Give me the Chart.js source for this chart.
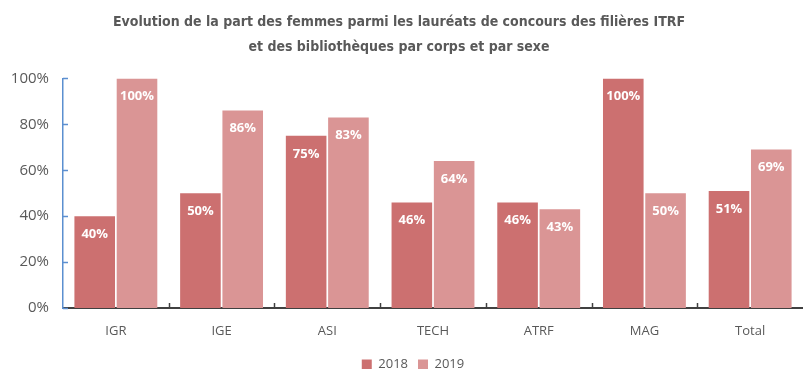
<!DOCTYPE html>
<html lang="fr">
<head>
<meta charset="UTF-8">
<title>Part des femmes parmi les lauréats</title>
<script src="https://cdn.jsdelivr.net/npm/chart.js"></script>
<style>
  html, body { margin: 0; padding: 0; background: #fff; overflow: hidden; }
  #wrap { width: 803px; height: 369px; }
</style>
</head>
<body>
<div id="wrap"><canvas id="chart"></canvas></div>
<script>
// categories and values (% of women among laureates)
const corps = ["IGR", "IGE", "ASI", "TECH", "ATRF", "MAG", "Total"];
const part2018 = [40, 50, 75, 46, 46, 100, 51];
const part2019 = [100, 86, 83, 64, 43, 50, 69];
const yTicks = [0, 20, 40, 60, 80, 100];

const txtFont = "'Open Sans', 'Noto Sans', sans-serif";
const titleFont = "'Liberation Sans Narrow', 'DejaVu Sans Condensed', 'Open Sans', sans-serif";

// white percentage labels inside the bars
const barLabels = {
  id: "barLabels",
  afterDatasetsDraw(chart) {
    const ctx = chart.ctx;
    ctx.save();
    ctx.font = "bold 13px " + txtFont;
    ctx.fillStyle = "#ffffff";
    ctx.textAlign = "center";
    ctx.textBaseline = "middle";
    chart.data.datasets.forEach((ds, i) => {
      chart.getDatasetMeta(i).data.forEach((bar, j) => {
        ctx.fillText(ds.data[j] + "%", bar.x, bar.y + 18);
      });
    });
    ctx.restore();
  }
};

// short inward tick marks on both axes
const axisTicks = {
  id: "axisTicks",
  afterDraw(chart) {
    const ctx = chart.ctx;
    const y = chart.scales.y;
    const area = chart.chartArea;
    ctx.save();
    ctx.lineWidth = 1.5;
    ctx.strokeStyle = "#5b8fd0";
    yTicks.forEach(v => {
      const py = Math.round(y.getPixelForValue(v)) + 0.5;
      ctx.beginPath();
      ctx.moveTo(area.left, py);
      ctx.lineTo(area.left + 5, py);
      ctx.stroke();
    });
    ctx.strokeStyle = "#404040";
    const step = (area.right - area.left) / corps.length;
    for (let k = 1; k < corps.length; k++) {
      const px = Math.round(area.left + k * step) + 0.5;
      ctx.beginPath();
      ctx.moveTo(px, area.bottom);
      ctx.lineTo(px, area.bottom - 5);
      ctx.stroke();
    }
    ctx.restore();
  }
};

// nudge the legend right and the title left a little
const nudgeBoxes = {
  id: "nudgeBoxes",
  afterLayout(chart) {
    if (chart.legend) { chart.legend.left += 10; chart.legend.right += 10; }
    if (chart.titleBlock) { chart.titleBlock.left -= 4; chart.titleBlock.right -= 4; }
  }
};

new Chart(document.getElementById("chart"), {
  type: "bar",
  data: {
    labels: corps,
    datasets: [
      { label: "2018", data: part2018, backgroundColor: "#cc7070" },
      { label: "2019", data: part2019, backgroundColor: "#da9595" }
    ]
  },
  options: {
    responsive: true,
    maintainAspectRatio: false,
    animation: false,
    categoryPercentage: 0.80,
    barPercentage: 0.96,
    layout: { padding: { left: 0, right: -3, top: 6, bottom: -12 } },
    plugins: {
      title: {
        display: true,
        text: ["Evolution de la part des femmes parmi les lauréats de concours des filières ITRF",
               "et des bibliothèques par corps et par sexe"],
        color: "#595959",
        font: { family: titleFont, size: 14, weight: "bold", lineHeight: 1.8 },
        padding: { top: 4, bottom: 18 }
      },
      legend: {
        position: "bottom",
        labels: {
          boxWidth: 10, boxHeight: 10, padding: 10,
          color: "#595959",
          font: { family: txtFont, size: 13 }
        }
      },
      tooltip: { enabled: false }
    },
    scales: {
      x: {
        afterFit(scale) { scale.height = 40; },
        grid: { display: false, drawTicks: false },
        border: { color: "#404040", width: 2 },
        ticks: { color: "#595959", font: { family: txtFont, size: 13 }, padding: 15 }
      },
      y: {
        min: 0, max: 100,
        afterFit(scale) { scale.width = 63; },
        afterBuildTicks(scale) { scale.ticks = yTicks.map(v => ({ value: v })); },
        grid: { display: false, drawTicks: false },
        border: { color: "#5b8fd0", width: 1.5 },
        ticks: {
          color: "#595959", padding: 14,
          font: { family: txtFont, size: 15 },
          callback: v => v + "%"
        }
      }
    }
  },
  plugins: [barLabels, axisTicks, nudgeBoxes]
});
</script>
</body>
</html>
